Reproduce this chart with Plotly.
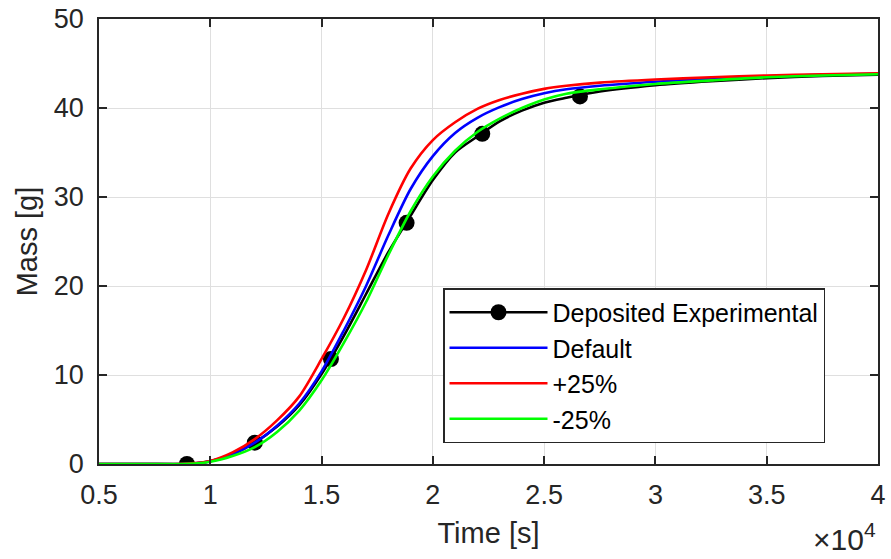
import plotly.graph_objects as go

# Time grid (s) at which the simulated curves were read off the picture
t_sim = [5000, 7000, 9000, 10000, 11000, 12000, 13000, 14000, 15000, 16000,
         17000, 18000, 19000, 20000, 21000, 22000, 23000, 24000, 25000, 26000,
         27500, 30000, 32500, 35000, 37500, 40000]

mass_black = [0, 0, 0.0, 0.3, 1.1, 2.4, 4.2, 6.6, 10.1, 14.4,
              19.1, 23.8, 27.9, 31.9, 35.0, 36.8, 38.5, 39.7, 40.6, 41.15,
              41.85, 42.55, 43.0, 43.35, 43.6, 43.75]
mass_default = [0, 0, 0.02, 0.3, 1.1, 2.4, 4.3, 6.8, 10.4, 15.0,
                20.0, 25.7, 30.9, 34.6, 37.2, 38.9, 40.1, 41.0, 41.65, 42.1,
                42.5, 42.95, 43.3, 43.55, 43.72, 43.85]
mass_plus25 = [0, 0, 0.05, 0.35, 1.3, 2.8, 4.9, 7.6, 11.8, 16.4,
               21.8, 28.1, 33.2, 36.4, 38.4, 39.9, 40.9, 41.6, 42.15, 42.5,
               42.85, 43.2, 43.45, 43.65, 43.8, 43.9]
mass_minus25 = [0, 0, 0.02, 0.25, 0.9, 1.9, 3.6, 6.0, 9.4, 13.6,
                18.2, 23.5, 28.4, 32.3, 35.2, 37.3, 38.8, 40.0, 40.95, 41.6,
                42.1, 42.7, 43.1, 43.45, 43.65, 43.8]

# Experimental points
t_exp = [8950, 12000, 15420, 18820, 22220, 26610]
mass_exp = [0.0, 2.4, 11.8, 27.1, 37.1, 41.3]

x_tickvals = [5000, 10000, 15000, 20000, 25000, 30000, 35000, 40000]
x_ticktext = ["0.5", "1", "1.5", "2", "2.5", "3", "3.5", "4"]
y_tickvals = [0, 10, 20, 30, 40, 50]

AX = "#262626"
FONT = "Liberation Sans, Arial, Helvetica, sans-serif"
LW = 2.6
MS = 16

fig = go.Figure()

# legend-only entry for experimental series (line with marker)
fig.add_trace(go.Scatter(x=[None], y=[None], mode="lines+markers",
                         name="Deposited Experimental",
                         line=dict(color="black", width=LW),
                         marker=dict(color="black", size=MS, symbol="circle")))
fig.add_trace(go.Scatter(x=t_sim, y=mass_black, mode="lines", showlegend=False,
                         line=dict(color="black", width=LW, shape="spline", smoothing=0.8)))
fig.add_trace(go.Scatter(x=t_exp, y=mass_exp, mode="markers", showlegend=False,
                         marker=dict(color="black", size=MS, symbol="circle")))
fig.add_trace(go.Scatter(x=t_sim, y=mass_default, mode="lines", name="Default",
                         line=dict(color="#0000ff", width=LW, shape="spline", smoothing=0.8)))
fig.add_trace(go.Scatter(x=t_sim, y=mass_plus25, mode="lines", name="+25%",
                         line=dict(color="#ff0000", width=LW, shape="spline", smoothing=0.8)))
fig.add_trace(go.Scatter(x=t_sim, y=mass_minus25, mode="lines", name="-25%",
                         line=dict(color="#00ff00", width=LW, shape="spline", smoothing=0.8)))

axis_common = dict(
    showline=True, linecolor=AX, linewidth=1.5, mirror="ticks",
    ticks="inside", ticklen=8, tickwidth=1.5, tickcolor=AX,
    showgrid=True, gridcolor="#dfdfdf", gridwidth=1,
    zeroline=False,
    tickfont=dict(family=FONT, size=27, color=AX),
)

fig.update_xaxes(range=[5000, 40000], tickmode="array", tickvals=x_tickvals,
                 ticktext=x_ticktext,
                 title=dict(text="Time [s]", font=dict(family=FONT, size=29, color=AX),
                            standoff=14),
                 ticklabelstandoff=6,
                 **axis_common)
fig.update_yaxes(range=[0, 50], tickmode="array", tickvals=y_tickvals,
                 title=dict(text="Mass [g]", font=dict(family=FONT, size=29, color=AX),
                            standoff=8),
                 ticklabelstandoff=8,
                 **axis_common)

fig.add_annotation(text="×10<sup>4</sup>", xref="paper", yref="paper",
                   x=1.0, y=-0.212, xanchor="right", yanchor="bottom", showarrow=False,
                   font=dict(family=FONT, size=30, color=AX))

fig.update_layout(
    width=891, height=559,
    margin=dict(l=99, r=13, t=19, b=95, autoexpand=False),
    paper_bgcolor="white", plot_bgcolor="white",
    font=dict(family=FONT, color=AX),
    showlegend=True,
    legend=dict(x=0.4416, y=0.3955, xanchor="left", yanchor="top",
                bgcolor="white", bordercolor=AX, borderwidth=1.5,
                font=dict(family=FONT, size=25, color="black"),
                itemwidth=98, tracegroupgap=0),
)

fig.write_html("out.html")
